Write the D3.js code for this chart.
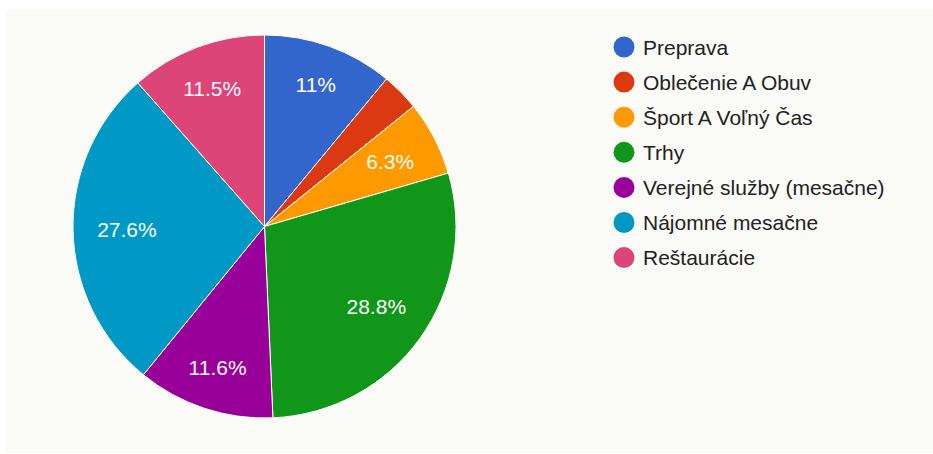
<!DOCTYPE html>
<html>
<head>
<meta charset="utf-8">
<script src="https://cdn.jsdelivr.net/npm/d3@7"></script>
<style>
  body { margin: 0; background: #ffffff; }
</style>
</head>
<body>
<div id="chart"></div>
<script>
// data
const categories = ["Preprava", "Oblečenie A Obuv", "Šport A Voľný Čas", "Trhy",
  "Verejné služby (mesačne)", "Nájomné mesačne", "Reštaurácie"];
const values = [11, 3.2, 6.3, 28.8, 11.6, 27.6, 11.5];
const labels = ["11%", "", "6.3%", "28.8%", "11.6%", "27.6%", "11.5%"];
const colors = ["#3366cc", "#dc3912", "#ff9900", "#109618", "#990099", "#0099c6", "#dd4477"];

const width = 933, height = 454;
const cx = 264.5, cy = 226.5, radius = 191.5;

const svg = d3.select("#chart").append("svg")
  .attr("width", width)
  .attr("height", height);

// panel background
svg.append("rect")
  .attr("x", 6).attr("y", 10)
  .attr("width", width - 6).attr("height", 443)
  .attr("fill", "#fafaf6");

const data = categories.map((c, i) => ({ name: c, value: values[i], label: labels[i], color: colors[i] }));

const pie = d3.pie().sort(null).value(d => d.value);
const arc = d3.arc().innerRadius(0).outerRadius(radius);

const g = svg.append("g").attr("transform", "translate(" + cx + "," + cy + ")");

const arcs = pie(data);

g.selectAll("path")
  .data(arcs)
  .enter()
  .append("path")
  .attr("d", arc)
  .attr("fill", d => d.data.color)
  .attr("stroke", "#ffffff")
  .attr("stroke-width", 1);

// labels: outer corner of the text box sits at ~0.875 of the radius
const labelEdge = radius * 0.875;
g.selectAll("text")
  .data(arcs)
  .enter()
  .append("text")
  .attr("text-anchor", "middle")
  .attr("dy", "0.36em")
  .style("font-family", "Arial, 'Liberation Sans', sans-serif")
  .style("font-size", "21px")
  .style("fill", "#ffffff")
  .text(d => d.data.label)
  .attr("transform", function(d) {
    const a = (d.startAngle + d.endAngle) / 2;
    const ux = Math.sin(a), uy = -Math.cos(a);
    const bb = this.getBBox();
    const proj = Math.abs(ux) * bb.width / 2 + Math.abs(uy) * 10;
    const dist = labelEdge - proj;
    return "translate(" + (ux * dist) + "," + (uy * dist) + ")";
  });

// legend
const legend = svg.append("g").attr("transform", "translate(624,47)");
const item = legend.selectAll("g")
  .data(data)
  .enter()
  .append("g")
  .attr("transform", (d, i) => "translate(0," + (i * 35.1) + ")");

item.append("circle")
  .attr("r", 10.5)
  .attr("fill", d => d.color);

item.append("text")
  .attr("x", 19)
  .attr("dy", "0.36em")
  .style("font-family", "Arial, 'Liberation Sans', sans-serif")
  .style("font-size", "21px")
  .style("fill", "#222222")
  .text(d => d.name);
</script>
</body>
</html>
